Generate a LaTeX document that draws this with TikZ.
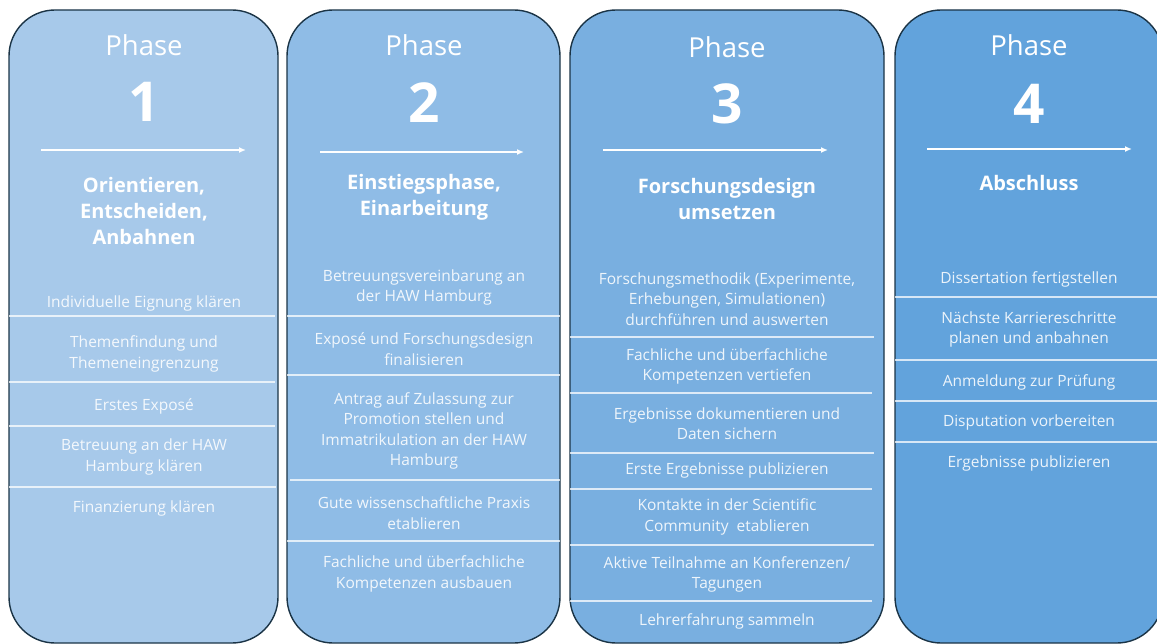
\documentclass[tikz,border=0pt]{standalone}
\usepackage{fontspec}
\setmainfont{Open Sans}
\usetikzlibrary{arrows.meta}
\definecolor{boxline}{HTML}{1B3446}
\definecolor{phaseA}{HTML}{A7C9EA}
\definecolor{phaseB}{HTML}{8FBCE6}
\definecolor{phaseC}{HTML}{79AFE0}
\definecolor{phaseD}{HTML}{62A3DC}
\tikzset{
  phasebox/.style={draw=boxline, line width=1.4pt, rounded corners=46pt},
  phaselbl/.style={text=white, inner sep=0pt, font=\fontsize{27.5}{30}\selectfont},
  phasenum/.style={text=white, inner sep=0pt, font=\bfseries\fontsize{55}{60}\selectfont},
  phasettl/.style={text=white, inner sep=0pt, align=center, font=\bfseries\fontsize{20}{26}\selectfont},
  itemtxt/.style={text=white, text opacity=.88, inner sep=0pt, align=center, yshift=-2pt, font=\fontsize{15.5}{20.5}\selectfont},
  sepline/.style={white, line width=1.1pt, opacity=.75},
  flowarrow/.style={white, line width=1.5pt, -{Latex[length=7pt,width=6pt]}}
}
\begin{document}
\begin{tikzpicture}[x=1pt,y=-1pt]
\useasboundingbox (0,0) rectangle (1157,644);
%\draw[step=50,gray,very thin] (0,0) grid (1157,644); %background grid
\draw[phasebox,fill=phaseA] (9,10)   rectangle (278,643);
\draw[phasebox,fill=phaseB] (287,10) rectangle (560,643);
\draw[phasebox,fill=phaseC] (570,10) rectangle (884,643);
\draw[phasebox,fill=phaseD] (895,10) rectangle (1163,643);
%---------------------------------------------------
% Phase 1
\node[phaselbl] (lblA) at (144,45)  {Phase};
\node[phasenum] (numA) at (144,102) {1};
\coordinate (arrAs) at (41,150);
\coordinate (arrAe) at (246,150);
\draw[flowarrow] (arrAs) -- (arrAe);
\node[phasettl] (ttlA) at (144,211) {Orientieren,\\Entscheiden,\\Anbahnen};
\node[itemtxt] (eign) at (144,301) {Individuelle Eignung klären};
\draw[sepline] (9,316) -- (275,316);
\node[itemtxt] (thema) at (144,352) {Themenfindung und\\Themeneingrenzung};
\draw[sepline] (9,382) -- (275,382);
\node[itemtxt] (expoA) at (144,404) {Erstes Exposé};
\draw[sepline] (9,426) -- (275,426);
\node[itemtxt] (betrA) at (144,455) {Betreuung an der HAW\\Hamburg klären};
\draw[sepline] (9,487) -- (276,487);
\node[itemtxt] (finanz) at (144,506) {Finanzierung klären};
%---------------------------------------------------
% Phase 2
\node[phaselbl] (lblB) at (424,45)  {Phase};
\node[phasenum] (numB) at (424,103) {2};
\coordinate (arrBs) at (320,152);
\coordinate (arrBe) at (524,152);
\draw[flowarrow] (arrBs) -- (arrBe);
\node[phasettl] (ttlB) at (424,197) {Einstiegsphase,\\Einarbeitung};
\node[itemtxt] (betrB) at (424,285.5) {Betreuungsvereinbarung an\\der HAW Hamburg};
\draw[sepline] (287,316) -- (560,316);
\node[itemtxt] (expoB) at (424,347) {Exposé und Forschungsdesign\\finalisieren};
\draw[sepline] (287,375) -- (560,375);
\node[itemtxt] (antrag) at (424,429) {Antrag auf Zulassung zur\\Promotion stellen und\\Immatrikulation an der HAW\\Hamburg};
\draw[sepline] (290,480) -- (560,480);
\node[itemtxt] (praxis) at (424,511) {Gute wissenschaftliche Praxis\\etablieren};
\draw[sepline] (287,541) -- (560,541);
\node[itemtxt] (kompB) at (424,572) {Fachliche und überfachliche\\Kompetenzen ausbauen};
%---------------------------------------------------
% Phase 3
\node[phaselbl] (lblC) at (727,47)  {Phase};
\node[phasenum] (numC) at (727,104) {3};
\coordinate (arrCs) at (603,150);
\coordinate (arrCe) at (828,150);
\draw[flowarrow] (arrCs) -- (arrCe);
\node[phasettl] (ttlC) at (727,199) {Forschungsdesign\\umsetzen};
\node[itemtxt] (methodik) at (727,297) {Forschungsmethodik (Experimente,\\Erhebungen, Simulationen)\\durchführen und auswerten};
\draw[sepline] (570,337) -- (874,337);
\node[itemtxt] (kompC) at (727,364.5) {Fachliche und überfachliche\\Kompetenzen vertiefen};
\draw[sepline] (570,393) -- (872,393);
\node[itemtxt] (doku) at (727,421.5) {Ergebnisse dokumentieren und\\Daten sichern};
\draw[sepline] (570,453) -- (874,453);
\node[itemtxt] (publC) at (727,468) {Erste Ergebnisse publizieren};
\draw[sepline] (570,489) -- (872,489);
\node[itemtxt] (kontakt) at (727,515) {Kontakte in der Scientific\\Community\ \ etablieren};
\draw[sepline] (570,545) -- (874,545);
\node[itemtxt] (konf) at (727,572.5) {Aktive Teilnahme an Konferenzen/\\Tagungen};
\draw[sepline] (570,601) -- (872,601);
\node[itemtxt] (lehre) at (727,619) {Lehrerfahrung sammeln};
%---------------------------------------------------
% Phase 4
\node[phaselbl] (lblD) at (1029,45)  {Phase};
\node[phasenum] (numD) at (1029,104) {4};
\coordinate (arrDs) at (927,149);
\coordinate (arrDe) at (1132,149);
\draw[flowarrow] (arrDs) -- (arrDe);
\node[phasettl] (ttlD) at (1029,183) {Abschluss};
\node[itemtxt] (diss) at (1029,277) {Dissertation fertigstellen};
\draw[sepline] (895,297) -- (1157,297);
\node[itemtxt] (karriere) at (1029,327.5) {Nächste Karriereschritte\\planen und anbahnen};
\draw[sepline] (895,360) -- (1157,360);
\node[itemtxt] (anmeld) at (1029,380) {Anmeldung zur Prüfung};
\draw[sepline] (895,401) -- (1157,401);
\node[itemtxt] (disput) at (1029,420) {Disputation vorbereiten};
\draw[sepline] (895,442) -- (1157,442);
\node[itemtxt] (publD) at (1029,461) {Ergebnisse publizieren};
\end{tikzpicture}
\end{document}
